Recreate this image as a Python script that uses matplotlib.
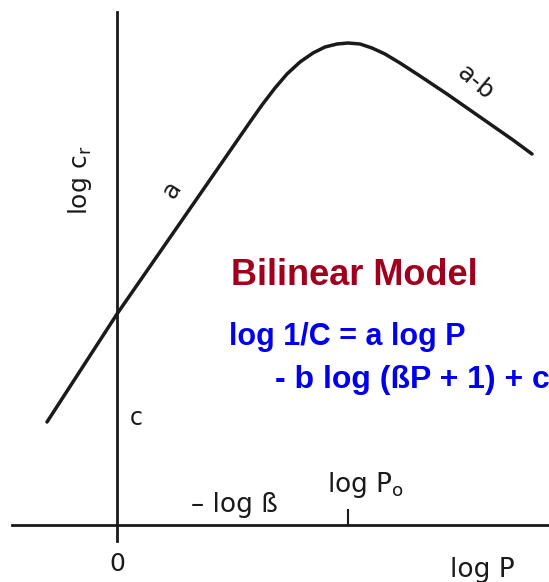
import numpy as np
import matplotlib.pyplot as plt

# points along the bilinear curve (log P, log C_r)
log_p = [-0.70, 0.00, 0.70, 1.33, 1.45, 1.58, 1.70, 1.83, 1.96, 2.08, 2.20,
         2.31, 2.43, 2.55, 2.68, 2.83, 3.03, 3.30, 3.63, 3.96, 4.15]
log_cr = [1.03, 2.11, 3.12, 4.03, 4.20, 4.37, 4.51, 4.63, 4.72, 4.78, 4.81,
          4.82, 4.81, 4.77, 4.71, 4.62, 4.49, 4.31, 4.08, 3.85, 3.71]
log_p0 = 2.31

ink = '#1a1a1a'

fig = plt.figure(figsize=(5.49, 5.82), dpi=100)
ax = fig.add_axes([0, 0, 1, 1])
ax.set_xlim(-1.17, 4.32)
ax.set_ylim(-0.57, 5.25)
ax.axis('off')

# axes drawn by hand
ax.plot([0, 0], [-0.16, 5.13], color=ink, lw=2)
ax.plot([-1.05, 4.4], [0, 0], color=ink, lw=2)
ax.plot([log_p0, log_p0], [0, 0.15], color=ink, lw=1.5)

ax.plot(log_p, log_cr, color=ink, lw=2.5, solid_joinstyle='round', solid_capstyle='round')

lbl = dict(color=ink, family='DejaVu Sans')
ax.text(0, -0.39, '0', fontsize=18, ha='center', va='center', **lbl)
ax.text(3.65, -0.52, 'log P', fontsize=19, ha='center', va='baseline', **lbl)
ax.text(1.17, 0.13, '– log ß', fontsize=19, ha='center', va='baseline', **lbl)
ax.text(2.10, 0.33, r'log P$_\mathregular{o}$', fontsize=19, ha='left', va='baseline', **lbl)
ax.text(0.19, 1.07, 'c', fontsize=17, ha='center', va='center', **lbl)
ax.text(-0.37, 3.45, r'log c$_\mathregular{r}$', fontsize=18, rotation=90,
        ha='center', va='center', **lbl)
ax.text(0.55, 3.35, 'a', fontsize=18, rotation=57, ha='center', va='center', **lbl)
ax.text(3.58, 4.42, 'a-b', fontsize=18, rotation=-40, ha='center', va='center', **lbl)

ax.text(1.14, 2.40, 'Bilinear Model', color='#a0001e', fontsize=26,
        fontweight='bold', family='Liberation Sans', ha='left', va='baseline')
ax.text(1.12, 1.80, 'log 1/C = a log P', color='#0000ee', fontsize=22,
        fontweight='bold', family='Liberation Sans', ha='left', va='baseline')
ax.text(1.58, 1.37, '- b log (ßP + 1) + c', color='#0000ee', fontsize=23,
        fontweight='bold', family='Liberation Sans', ha='left', va='baseline')

fig.savefig('out.png', dpi=100)
